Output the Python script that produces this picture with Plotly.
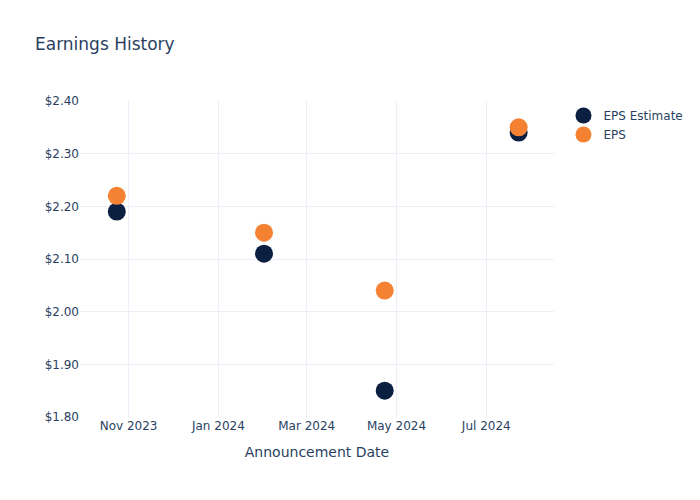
import plotly.graph_objects as go

dates = ["2023-10-24", "2024-02-01", "2024-04-23", "2024-07-23"]
eps_estimate = [2.19, 2.11, 1.85, 2.34]
eps_actual = [2.22, 2.15, 2.04, 2.35]

fig = go.Figure()
fig.add_trace(go.Scatter(x=dates, y=eps_estimate, mode="markers", name="EPS Estimate",
                         marker=dict(color="#0b1f41", size=18)))
fig.add_trace(go.Scatter(x=dates, y=eps_actual, mode="markers", name="EPS",
                         marker=dict(color="#f58233", size=18)))
fig.update_layout(
    template="plotly_white",
    width=700, height=500,
    margin=dict(l=80, r=80, t=101, b=83),
    font=dict(family="DejaVu Sans"),
    title=dict(text="Earnings History", y=0.912, yanchor="middle"),
    xaxis=dict(title=dict(text="Announcement Date"), range=["2023-09-29", "2024-08-16"],
               dtick="M2", tickformat="%b %Y"),
    yaxis=dict(range=[1.8, 2.4], dtick=0.1, tickformat="$.2f"),
)
fig.write_html("out.html", post_script="document.body.style.margin='0';",
               config={"displayModeBar": False})
